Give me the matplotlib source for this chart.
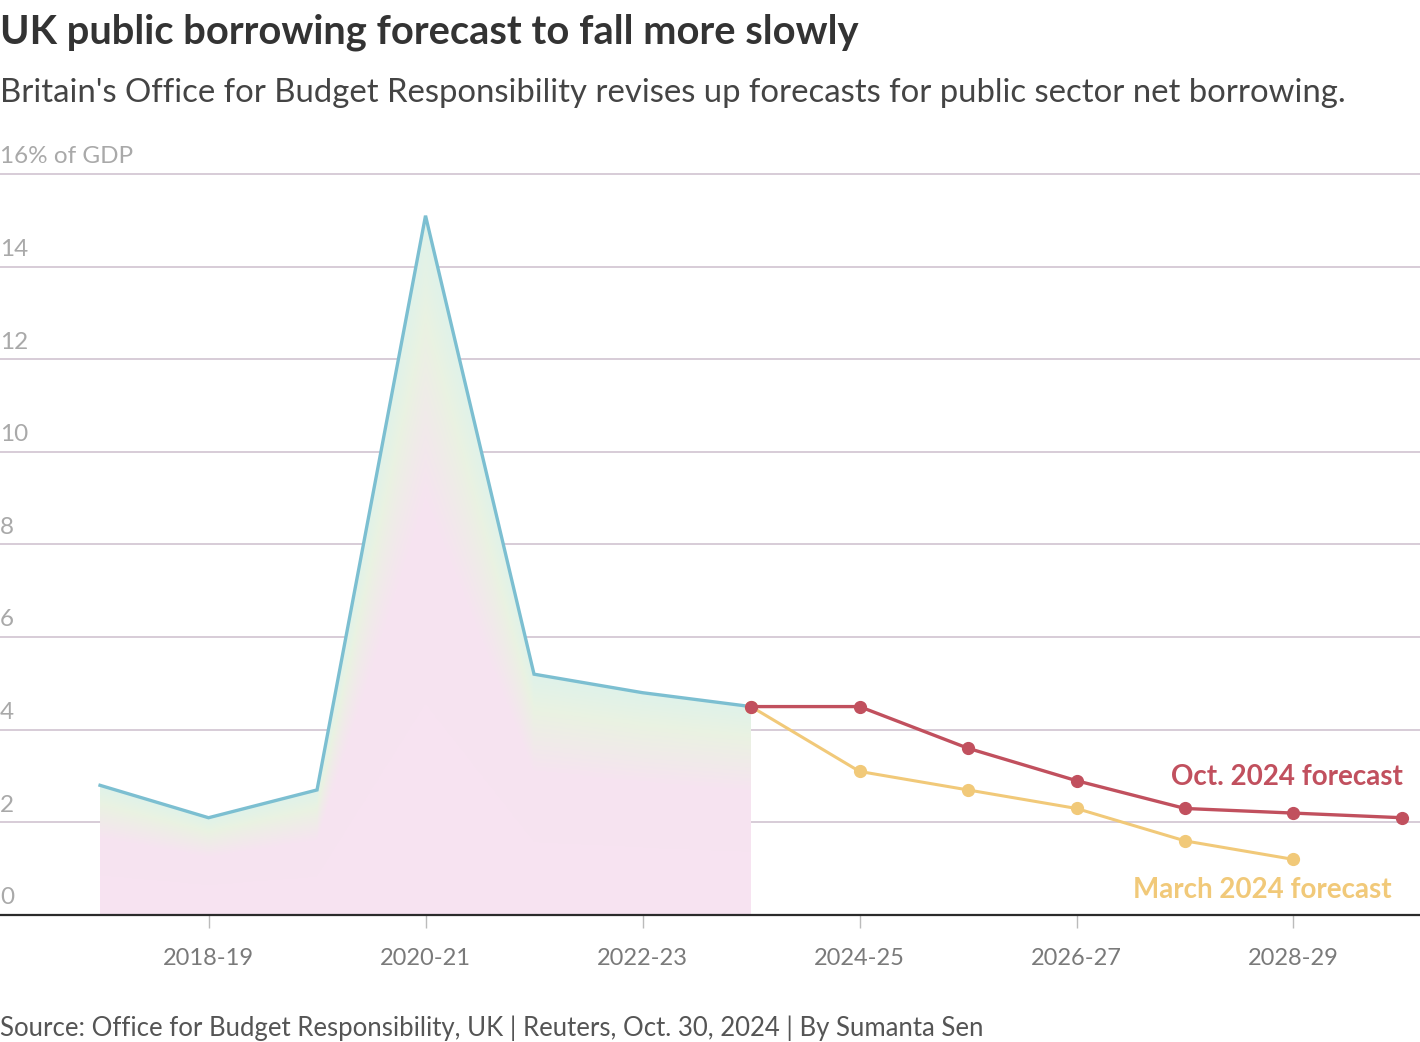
"""UK public borrowing chart: history plus two OBR forecasts."""

import numpy as np
import matplotlib.pyplot as plt
from matplotlib.colors import LinearSegmentedColormap

plt.rcParams["font.family"] = ["Lato", "DejaVu Sans"]

years = ["2017-18", "2018-19", "2019-20", "2020-21", "2021-22", "2022-23",
         "2023-24", "2024-25", "2025-26", "2026-27", "2027-28", "2028-29",
         "2029-30"]
history = [2.8, 2.1, 2.7, 15.1, 5.2, 4.8, 4.5]
oct_2024 = [4.5, 4.5, 3.6, 2.9, 2.3, 2.2, 2.1]
march_2024 = [4.5, 3.1, 2.7, 2.3, 1.6, 1.2]
y_ticks = [0, 2, 4, 6, 8, 10, 12, 14, 16]
y_labels = ["0", "2", "4", "6", "8", "10", "12", "14", "16% of GDP"]
x_labelled = ["2018-19", "2020-21", "2022-23", "2024-25", "2026-27", "2028-29"]

TEAL = "#7cbfd1"
RED = "#c1505e"
YELLOW = "#f1c979"
GRID = "#cdbfcd"

fig = plt.figure(figsize=(14.2, 10.42), dpi=100)
ax = fig.add_axes([0, 0.1219, 1, 0.7111])

x_hist = np.arange(len(history))
x_oct = np.arange(len(oct_2024)) + len(history) - 1
x_mar = np.arange(len(march_2024)) + len(history) - 1

ax.set_xlim(-0.922, 12.166)
ax.set_ylim(0, 16)

# gradient fill under the history line: pink at the base, green near the line
xs = np.linspace(x_hist[0], x_hist[-1], 600)
ys = np.linspace(0, max(history), 600)
top = np.interp(xs, x_hist, history)
frac = ys[:, None] / top[None, :]
cmap = LinearSegmentedColormap.from_list(
    "fill", [(0, "#f8e3f2"), (0.6, "#f6e4f0"), (0.85, "#eaf2e2"), (1, "#dff3ea")])
img = ax.imshow(np.clip(frac, 0, 1), cmap=cmap, vmin=0, vmax=1, origin="lower",
                extent=[xs[0], xs[-1], 0, max(history)], aspect="auto", zorder=1)
poly = ax.fill_between(x_hist, history, 0, color="none", lw=0)
img.set_clip_path(poly.get_paths()[0], transform=ax.transData)

for t in y_ticks:
    ax.axhline(t, color=GRID, lw=1.1, zorder=0.5, clip_on=False)
ax.axhline(0, color="#2b2b2b", lw=1.6, zorder=5, clip_on=False)

ax.plot(x_hist, history, color=TEAL, lw=2.4, zorder=3, solid_joinstyle="miter")
ax.plot(x_mar, march_2024, color=YELLOW, lw=2.2, marker="o", ms=8.5, zorder=3)
ax.plot(x_oct, oct_2024, color=RED, lw=2.4, marker="o", ms=8.5, zorder=4)

ax.text(x_oct[-1] + 0.01, 2.97, "Oct. 2024 forecast", color=RED, fontsize=20,
        fontweight="bold", ha="right", va="center")
ax.text(x_mar[-1] + 0.9, 0.55, "March 2024 forecast", color=YELLOW, fontsize=20,
        fontweight="bold", ha="right", va="center")

for t, lab in zip(y_ticks, y_labels):
    ax.text(0, t + 0.37, lab, transform=ax.get_yaxis_transform(), ha="left",
            va="center", fontsize=17.5, color="#a9a9a9")

ax.set_xticks([years.index(y) for y in x_labelled])
ax.set_xticklabels(x_labelled, fontsize=17, color="#7a7a7a")
ax.tick_params(axis="x", length=9, width=1, color="#bbbbbb", pad=15)
ax.set_yticks([])
for s in ax.spines.values():
    s.set_visible(False)

fig.text(0.0, 0.969, "UK public borrowing forecast to fall more slowly",
         fontsize=28.7, fontweight="bold", color="#333333", ha="left", va="center")
fig.text(0.0, 0.911, "Britain's Office for Budget Responsibility revises up "
         "forecasts for public sector net borrowing.",
         fontsize=23.7, color="#444444", ha="left", va="center")
fig.text(0.0, 0.013, "Source: Office for Budget Responsibility, UK | Reuters, "
         "Oct. 30, 2024 | By Sumanta Sen",
         fontsize=18.5, color="#555555", ha="left", va="center")

fig.savefig("out.png", dpi=100, facecolor="white")
